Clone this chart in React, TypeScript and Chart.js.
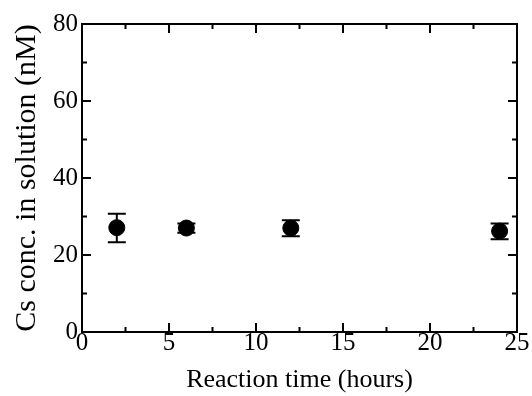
import React, { useEffect, useRef } from "react";
import { Chart, registerables } from "chart.js";

Chart.register(...registerables);

const times = [2, 6, 12, 24];
const conc = [27.1, 27.0, 27.0, 26.2];
const errLow = [23.3, 25.8, 24.9, 24.1];
const errHigh = [30.7, 28.2, 29.0, 28.2];

const xTickValues = [0, 5, 10, 15, 20, 25];
const yTickValues = [0, 20, 40, 60, 80];
const xMinorValues = [2.5, 7.5, 12.5, 17.5, 22.5];
const yMinorValues = [10, 30, 50, 70];

const FONT = "'Liberation Serif', 'Times New Roman', serif";

const framePlugin = {
  id: "frame",
  beforeDatasetsDraw(chart: any) {
    const ctx = chart.ctx;
    const xs = chart.scales.x;
    const ys = chart.scales.y;
    ctx.save();
    ctx.strokeStyle = "#000";
    ctx.lineWidth = 2;
    for (let i = 0; i < times.length; i++) {
      const px = xs.getPixelForValue(times[i]);
      const top = ys.getPixelForValue(errHigh[i]);
      const bot = ys.getPixelForValue(errLow[i]);
      ctx.beginPath();
      ctx.moveTo(px, top);
      ctx.lineTo(px, bot);
      ctx.moveTo(px - 9, top);
      ctx.lineTo(px + 9, top);
      ctx.moveTo(px - 9, bot);
      ctx.lineTo(px + 9, bot);
      ctx.stroke();
    }
    ctx.restore();
  },
  afterDraw(chart: any) {
    const ctx = chart.ctx;
    const { left, right, top, bottom } = chart.chartArea;
    const xs = chart.scales.x;
    const ys = chart.scales.y;
    ctx.save();
    ctx.strokeStyle = "#000";
    ctx.lineWidth = 2;
    ctx.strokeRect(left, top, right - left, bottom - top);
    const major = 9;
    const minor = 5;
    ctx.beginPath();
    const xt = (v: number, len: number) => {
      const p = xs.getPixelForValue(v);
      ctx.moveTo(p, bottom);
      ctx.lineTo(p, bottom - len);
      ctx.moveTo(p, top);
      ctx.lineTo(p, top + len);
    };
    const yt = (v: number, len: number) => {
      const p = ys.getPixelForValue(v);
      ctx.moveTo(left, p);
      ctx.lineTo(left + len, p);
      ctx.moveTo(right, p);
      ctx.lineTo(right - len, p);
    };
    xTickValues.forEach((v) => xt(v, major));
    xMinorValues.forEach((v) => xt(v, minor));
    yTickValues.forEach((v) => yt(v, major));
    yMinorValues.forEach((v) => yt(v, minor));
    ctx.stroke();
    ctx.restore();
  },
};

export default function App() {
  const ref = useRef<HTMLCanvasElement | null>(null);
  useEffect(() => {
    if (!ref.current) return;
    const chart = new Chart(ref.current, {
      type: "scatter",
      data: {
        datasets: [
          {
            data: times.map((t, i) => ({ x: t, y: conc[i] })),
            backgroundColor: "#000",
            borderColor: "#000",
            pointRadius: 8,
            pointHoverRadius: 8,
            showLine: false,
          },
        ],
      },
      plugins: [framePlugin],
      options: {
        responsive: false,
        animation: false,
        devicePixelRatio: 1,
        layout: { padding: { top: 24, right: 15, left: 0, bottom: 0 } },
        plugins: { legend: { display: false }, tooltip: { enabled: false } },
        scales: {
          x: {
            type: "linear",
            min: 0,
            max: 25,
            afterFit: (s: any) => {
              s.height = 64;
            },
            afterBuildTicks: (s: any) => {
              s.ticks = xTickValues.map((v) => ({ value: v }));
            },
            grid: { display: false, drawTicks: false },
            border: { display: false },
            ticks: {
              color: "#000",
              font: { family: FONT, size: 25 },
              padding: -4,
              maxRotation: 0,
            },
            title: {
              display: true,
              text: "Reaction time (hours)",
              color: "#000",
              font: { family: FONT, size: 26 },
              padding: { top: 0, bottom: 0 },
            },
          },
          y: {
            type: "linear",
            min: 0,
            max: 80,
            afterFit: (s: any) => {
              s.width = 82;
            },
            afterBuildTicks: (s: any) => {
              s.ticks = yTickValues.map((v) => ({ value: v }));
            },
            grid: { display: false, drawTicks: false },
            border: { display: false },
            ticks: {
              color: "#000",
              font: { family: FONT, size: 25 },
              padding: 4,
            },
            title: {
              display: true,
              text: "Cs conc. in solution (nM)",
              color: "#000",
              font: { family: FONT, size: 30 },
              padding: { top: 9, bottom: 0 },
            },
          },
        },
      },
    });
    return () => chart.destroy();
  }, []);
  return (
    <div style={{ position: "absolute", left: 0, top: 0, width: 532, height: 396, background: "#fff" }}>
      <canvas ref={ref} width={532} height={396} style={{ width: 532, height: 396, display: "block" }} />
    </div>
  );
}
